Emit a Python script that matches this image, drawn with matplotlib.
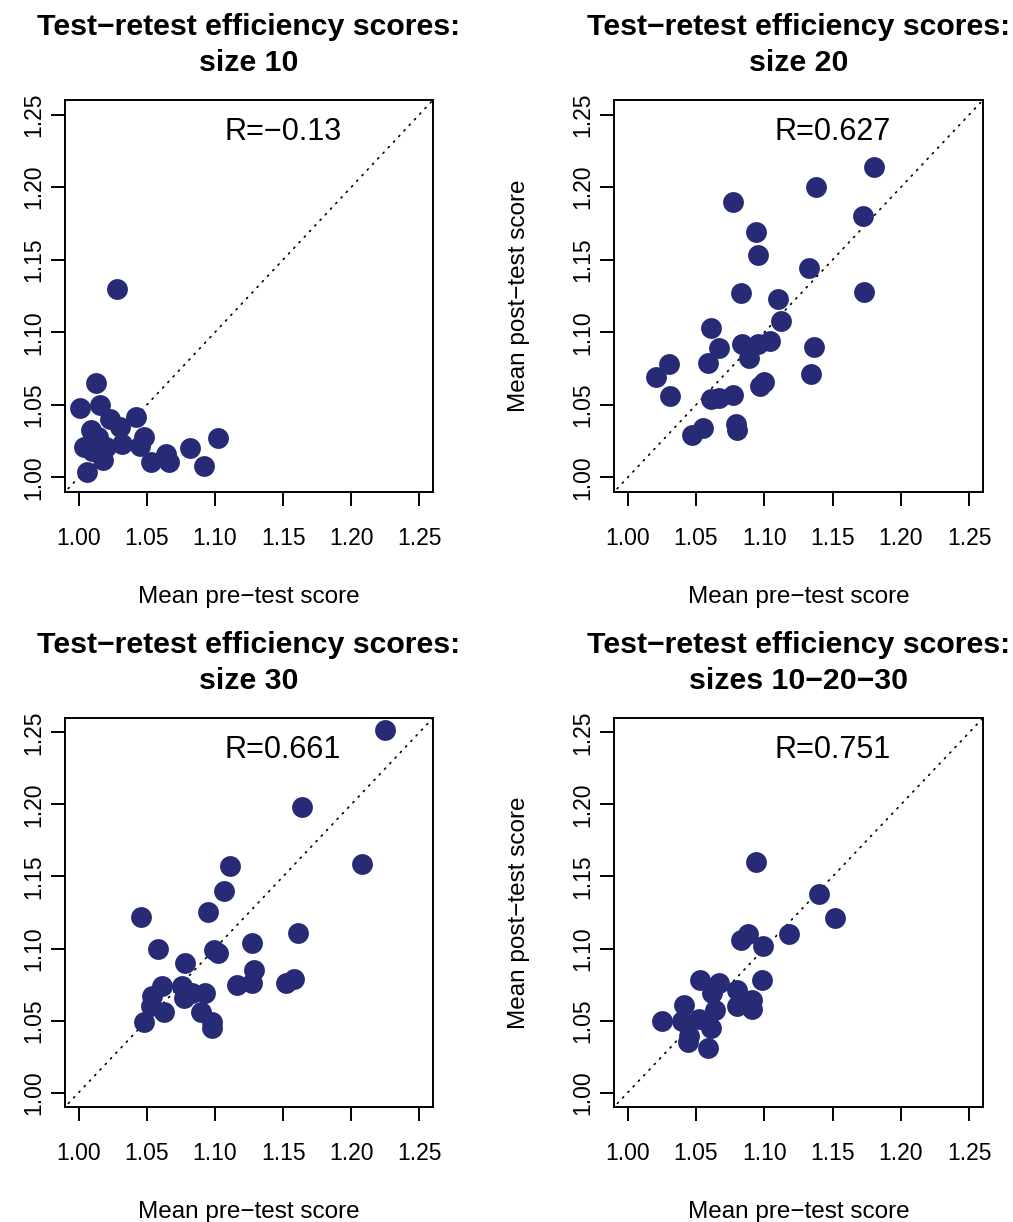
import numpy as np
import matplotlib
matplotlib.use("Agg")
import matplotlib.pyplot as plt

plt.rcParams['font.family'] = ['Liberation Sans', 'DejaVu Sans']

# size 10
pre10 = [1.028, 1.013, 1.001, 1.016, 1.023, 1.042, 1.009, 1.030, 1.048, 1.004,
         1.032, 1.018, 1.006, 1.053, 1.064, 1.066, 1.082, 1.092, 1.102, 1.045,
         1.014, 1.020, 1.010]
post10 = [1.130, 1.065, 1.048, 1.050, 1.040, 1.042, 1.033, 1.035, 1.028, 1.021,
          1.023, 1.012, 1.004, 1.011, 1.016, 1.011, 1.020, 1.008, 1.027, 1.022,
          1.028, 1.021, 1.018]

# size 20
pre20 = [1.180, 1.138, 1.077, 1.172, 1.094, 1.095, 1.133, 1.083, 1.173, 1.110,
         1.112, 1.061, 1.067, 1.084, 1.095, 1.104, 1.089, 1.136, 1.059, 1.030,
         1.021, 1.134, 1.031, 1.061, 1.067, 1.077, 1.097, 1.100, 1.055, 1.047,
         1.079, 1.080]
post20 = [1.214, 1.200, 1.190, 1.180, 1.169, 1.153, 1.144, 1.127, 1.128, 1.123,
          1.108, 1.103, 1.089, 1.092, 1.092, 1.094, 1.082, 1.090, 1.079, 1.078,
          1.069, 1.071, 1.056, 1.054, 1.055, 1.057, 1.063, 1.066, 1.034, 1.029,
          1.037, 1.033]

# size 30
pre30 = [1.225, 1.164, 1.208, 1.111, 1.107, 1.095, 1.046, 1.058, 1.099, 1.102,
         1.127, 1.161, 1.078, 1.129, 1.127, 1.116, 1.158, 1.152, 1.061, 1.076,
         1.083, 1.093, 1.077, 1.054, 1.053, 1.063, 1.090, 1.048, 1.098, 1.098]
post30 = [1.252, 1.198, 1.159, 1.157, 1.140, 1.125, 1.122, 1.100, 1.099, 1.097,
          1.104, 1.111, 1.090, 1.085, 1.076, 1.075, 1.079, 1.076, 1.074, 1.074,
          1.069, 1.069, 1.066, 1.067, 1.060, 1.056, 1.056, 1.049, 1.049, 1.045]

# sizes 10-20-30
pre_all = [1.094, 1.140, 1.152, 1.118, 1.088, 1.083, 1.099, 1.098, 1.053, 1.067,
           1.080, 1.062, 1.091, 1.080, 1.091, 1.041, 1.064, 1.025, 1.040, 1.052,
           1.061, 1.045, 1.044, 1.059]
post_all = [1.160, 1.138, 1.121, 1.110, 1.110, 1.106, 1.102, 1.078, 1.078, 1.076,
            1.071, 1.069, 1.064, 1.060, 1.058, 1.061, 1.057, 1.050, 1.050, 1.051,
            1.045, 1.039, 1.035, 1.031]

titles = ["Test\u2212retest efficiency scores:\nsize 10",
          "Test\u2212retest efficiency scores:\nsize 20",
          "Test\u2212retest efficiency scores:\nsize 30",
          "Test\u2212retest efficiency scores:\nsizes 10\u221220\u221230"]
r_labels = ["R=\u22120.13", "R=0.627", "R=0.661", "R=0.751"]
ticks = [1.00, 1.05, 1.10, 1.15, 1.20, 1.25]

pt_color = '#272a75'

fig = plt.figure(figsize=(10.13, 12.22), dpi=100)

W, H = 1013, 1222
boxes = [(65, 100, 433, 492), (614, 100, 983, 492),
         (65, 718, 433, 1107), (614, 718, 983, 1107)]
data = [(pre10, post10), (pre20, post20), (pre30, post30), (pre_all, post_all)]

for k, (bx, (x, y)) in enumerate(zip(boxes, data)):
    l, t, r, b = bx
    ax = fig.add_axes([l / W, 1 - b / H, (r - l) / W, (b - t) / H])
    # y = x reference line
    ax.plot([0.95, 1.30], [0.95, 1.30], color='black', lw=1.2,
            linestyle=(0, (0.8, 3.8)), dash_capstyle='round')
    ax.scatter(x, y, s=225, color=pt_color, linewidths=0, zorder=3)
    ax.set_xlim(0.99, 1.26)
    ax.set_ylim(0.99, 1.26)
    ax.set_xticks(ticks)
    ax.set_yticks(ticks)
    ax.set_xticklabels(['%.2f' % v for v in ticks])
    ax.set_yticklabels(['%.2f' % v for v in ticks], rotation=90, va='center')
    ax.tick_params(axis='x', length=10, width=1.4, pad=15, labelsize=16.5)
    ax.tick_params(axis='y', length=10, width=1.4, pad=4, labelsize=16.5)
    for s in ax.spines.values():
        s.set_linewidth(1.4)
    ax.set_xlabel("Mean pre\u2212test score", fontsize=17.5, labelpad=26)
    if k % 2 == 1:
        ax.set_ylabel("Mean post\u2212test score", fontsize=17.5, labelpad=30)
    ax.set_title(titles[k], fontsize=21.8, fontweight='bold', pad=21,
                 linespacing=1.35)
    ax.text(1.15, 1.238, r_labels[k], ha='center', va='center', fontsize=22)

fig.savefig("out.png", dpi=100)
